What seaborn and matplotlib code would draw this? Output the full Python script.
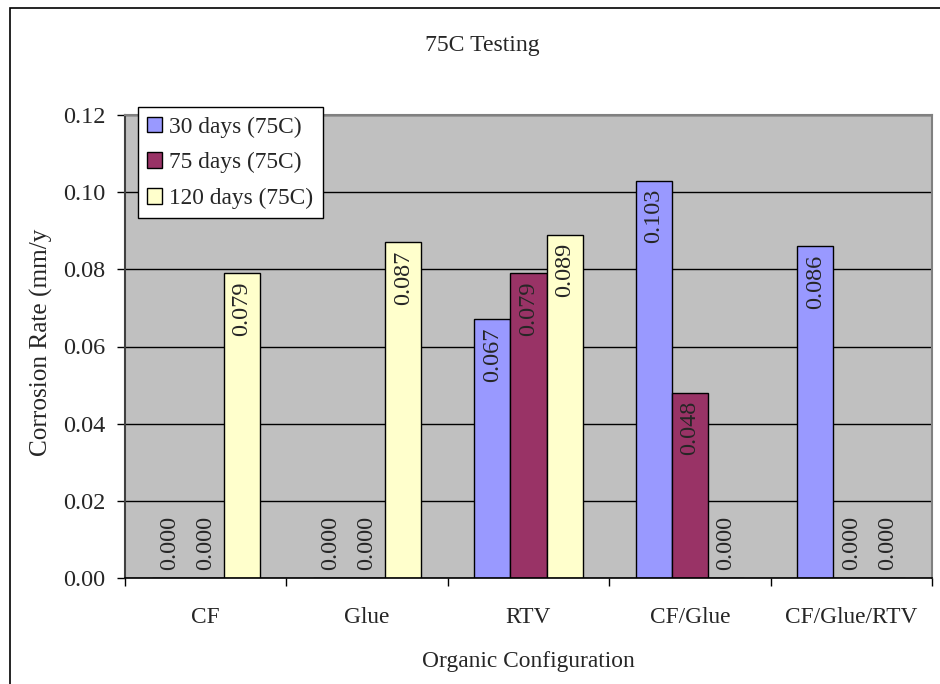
import matplotlib
matplotlib.use("Agg")
import matplotlib.pyplot as plt
from matplotlib.patches import Rectangle, Patch
from matplotlib.ticker import MultipleLocator, FixedLocator, FormatStrFormatter
import seaborn as sns
import pandas as pd

configs = ["CF", "Glue", "RTV", "CF/Glue", "CF/Glue/RTV"]
periods = ["30 days (75C)", "75 days (75C)", "120 days (75C)"]
rate_30 = [0.000, 0.000, 0.067, 0.103, 0.086]
rate_75 = [0.000, 0.000, 0.079, 0.048, 0.000]
rate_120 = [0.079, 0.087, 0.089, 0.000, 0.000]
colors = ["#9999FF", "#993366", "#FFFFCC"]

rows = []
for period, vals in zip(periods, [rate_30, rate_75, rate_120]):
    for cfg, v in zip(configs, vals):
        rows.append({"config": cfg, "period": period, "rate": v})
df = pd.DataFrame(rows)

sns.set_theme(style="white")
plt.rcParams["font.family"] = ["Liberation Serif", "DejaVu Serif"]

FS_H = 16.8   # horizontal text
FS_V = 17.5   # rotated text and y ticks

fig = plt.figure(figsize=(9.4, 6.84), dpi=100)
ax = fig.add_axes([125 / 940, 1 - 578 / 684, 807 / 940, 463 / 684])
ax.set_facecolor("#C0C0C0")
ax.set_axisbelow(True)

sns.barplot(data=df, x="config", y="rate", hue="period", order=configs,
            hue_order=periods, palette=colors, saturation=1, width=0.67,
            edgecolor="black", linewidth=1, ax=ax, legend=False, errorbar=None)

ax.set_ylim(0, 0.12)
ax.set_xlim(-0.5, len(configs) - 0.5)
ax.yaxis.set_major_locator(MultipleLocator(0.02))
ax.yaxis.set_major_formatter(FormatStrFormatter("%.2f"))
ax.grid(axis="y", color="black", linewidth=1)
ax.grid(axis="x", visible=False)

# category labels centred, tick marks between groups
ax.tick_params(axis="x", which="major", length=0, pad=21, labelsize=FS_H)
ax.xaxis.set_minor_locator(FixedLocator([i - 0.5 for i in range(len(configs) + 1)]))
ax.tick_params(axis="x", which="minor", length=6, width=1, color="black", direction="out", bottom=True)
ax.tick_params(axis="y", length=6, width=1, color="black", direction="out", left=True, pad=8, labelsize=FS_V)

for side in ["top", "right"]:
    ax.spines[side].set_color("#808080")
    ax.spines[side].set_linewidth(1.5)
ax.spines["left"].set_color("#404040")
ax.spines["left"].set_linewidth(1.5)
ax.spines["bottom"].set_color("black")
ax.spines["bottom"].set_linewidth(1.2)

# value labels, rotated, inside bar tops (zeros sit on the baseline)
for container, vals in zip(ax.containers, [rate_30, rate_75, rate_120]):
    for patch, v in zip(container.patches, vals):
        xc = patch.get_x() + patch.get_width() / 2
        if v > 0:
            ax.annotate(f"{v:.3f}", (xc, v), xytext=(0, -6), textcoords="offset points",
                        rotation=90, ha="center", va="top", fontsize=FS_V)
        else:
            ax.annotate(f"{v:.3f}", (xc, 0), xytext=(0, 6), textcoords="offset points",
                        rotation=90, ha="center", va="bottom", fontsize=FS_V)

ax.set_xlabel("Organic Configuration", fontsize=FS_H)
ax.xaxis.set_label_coords(0.5, -0.158)
ax.set_ylabel("Corrosion Rate (mm/y", fontsize=18.2)
ax.yaxis.set_label_coords(-0.089, 0.51)

fig.text(482 / 940, 1 - 45 / 684, "75C Testing", ha="center", va="center", fontsize=FS_H + 0.3)

handles = [Patch(facecolor=c, edgecolor="black", linewidth=1) for c in colors]
leg = ax.legend(handles, periods, loc="upper left", bbox_to_anchor=(0.016, 1.017),
                frameon=True, fancybox=False, shadow=False, fontsize=FS_H,
                handlelength=0.65, handleheight=0.65, handletextpad=0.3,
                labelspacing=0.62, borderpad=0.4, borderaxespad=0)
leg.get_frame().set_edgecolor("black")
leg.get_frame().set_linewidth(1)
leg.get_frame().set_facecolor("white")
leg.get_frame().set_alpha(1)

# outer chart border
fig.add_artist(Rectangle((10 / 940, -0.5), 2, 0.5 + 1 - 8 / 684, transform=fig.transFigure,
                         fill=False, edgecolor="black", linewidth=1.2))

fig.savefig("out.png", dpi=100, facecolor="white")
